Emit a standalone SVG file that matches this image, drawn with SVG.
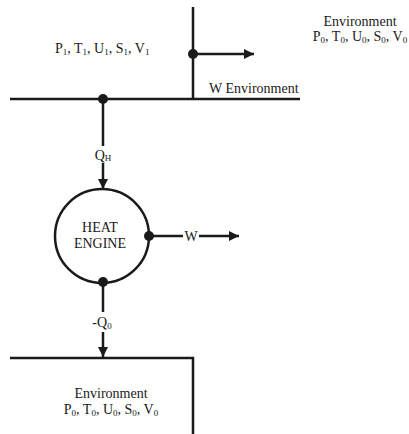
<svg xmlns="http://www.w3.org/2000/svg" width="409" height="434" viewBox="0 0 409 434">
<defs>
<style>
.ln{stroke:#1a1a1a;stroke-width:2.5;fill:none}
.dot{fill:#1a1a1a}
text{font-family:"Liberation Serif","Times New Roman",serif;font-size:14px;fill:#1a1a1a}
.sub{font-size:9px}
</style>
<marker id="ah" viewBox="0 0 10 10" refX="10" refY="5" markerWidth="4.4" markerHeight="4" orient="auto" markerUnits="strokeWidth">
<path d="M0,0 L10,5 L0,10 z" fill="#1a1a1a"/>
</marker>
</defs>
<g id="system-boundary">
<path class="ln" d="M10,99 H300 M193,7 V99"/>
</g>
<g id="bottom-environment">
<path class="ln" d="M10,358 H193 V434"/>
<text x="111" y="398" text-anchor="middle">Environment</text>
<text x="111" y="414" text-anchor="middle">P<tspan class="sub" dy="2">0</tspan><tspan dy="-2">, T</tspan><tspan class="sub" dy="2">0</tspan><tspan dy="-2">, U</tspan><tspan class="sub" dy="2">0</tspan><tspan dy="-2">, S</tspan><tspan class="sub" dy="2">0</tspan><tspan dy="-2">, V</tspan><tspan class="sub" dy="2">0</tspan></text>
</g>
<g id="system-state">
<text x="55" y="53">P<tspan class="sub" dy="2">1</tspan><tspan dy="-2">, T</tspan><tspan class="sub" dy="2">1</tspan><tspan dy="-2">, U</tspan><tspan class="sub" dy="2">1</tspan><tspan dy="-2">, S</tspan><tspan class="sub" dy="2">1</tspan><tspan dy="-2">, V</tspan><tspan class="sub" dy="2">1</tspan></text>
</g>
<g id="top-environment">
<text x="360" y="26" text-anchor="middle">Environment</text>
<text x="360" y="41" text-anchor="middle">P<tspan class="sub" dy="2">0</tspan><tspan dy="-2">, T</tspan><tspan class="sub" dy="2">0</tspan><tspan dy="-2">, U</tspan><tspan class="sub" dy="2">0</tspan><tspan dy="-2">, S</tspan><tspan class="sub" dy="2">0</tspan><tspan dy="-2">, V</tspan><tspan class="sub" dy="2">0</tspan></text>
</g>
<g id="w-environment">
<text x="209" y="93">W Environment</text>
</g>
<g id="heat-engine">
<circle class="ln" cx="102" cy="236" r="47"/>
<text x="100" y="232" text-anchor="middle">HEAT</text>
<text x="100" y="248" text-anchor="middle">ENGINE</text>
</g>
<g id="connectors">
<circle class="dot" cx="193" cy="54" r="5"/>
<path class="ln" d="M193,54 H254" marker-end="url(#ah)"/>
<circle class="dot" cx="103" cy="99" r="5"/>
<path class="ln" d="M103,99 V146"/>
<path class="ln" d="M103,163 V189" marker-end="url(#ah)"/>
<text x="103" y="160" text-anchor="middle">Q<tspan class="sub" dy="1">H</tspan></text>
<circle class="dot" cx="149" cy="236" r="5"/>
<path class="ln" d="M149,236 H183"/>
<path class="ln" d="M199,236 H239" marker-end="url(#ah)"/>
<text x="191" y="241" text-anchor="middle">W</text>
<circle class="dot" cx="103" cy="282" r="5"/>
<path class="ln" d="M103,282 V312"/>
<path class="ln" d="M103,332 V357" marker-end="url(#ah)"/>
<text x="102" y="327" text-anchor="middle">-Q<tspan class="sub" dy="2">0</tspan></text>
</g>
</svg>
